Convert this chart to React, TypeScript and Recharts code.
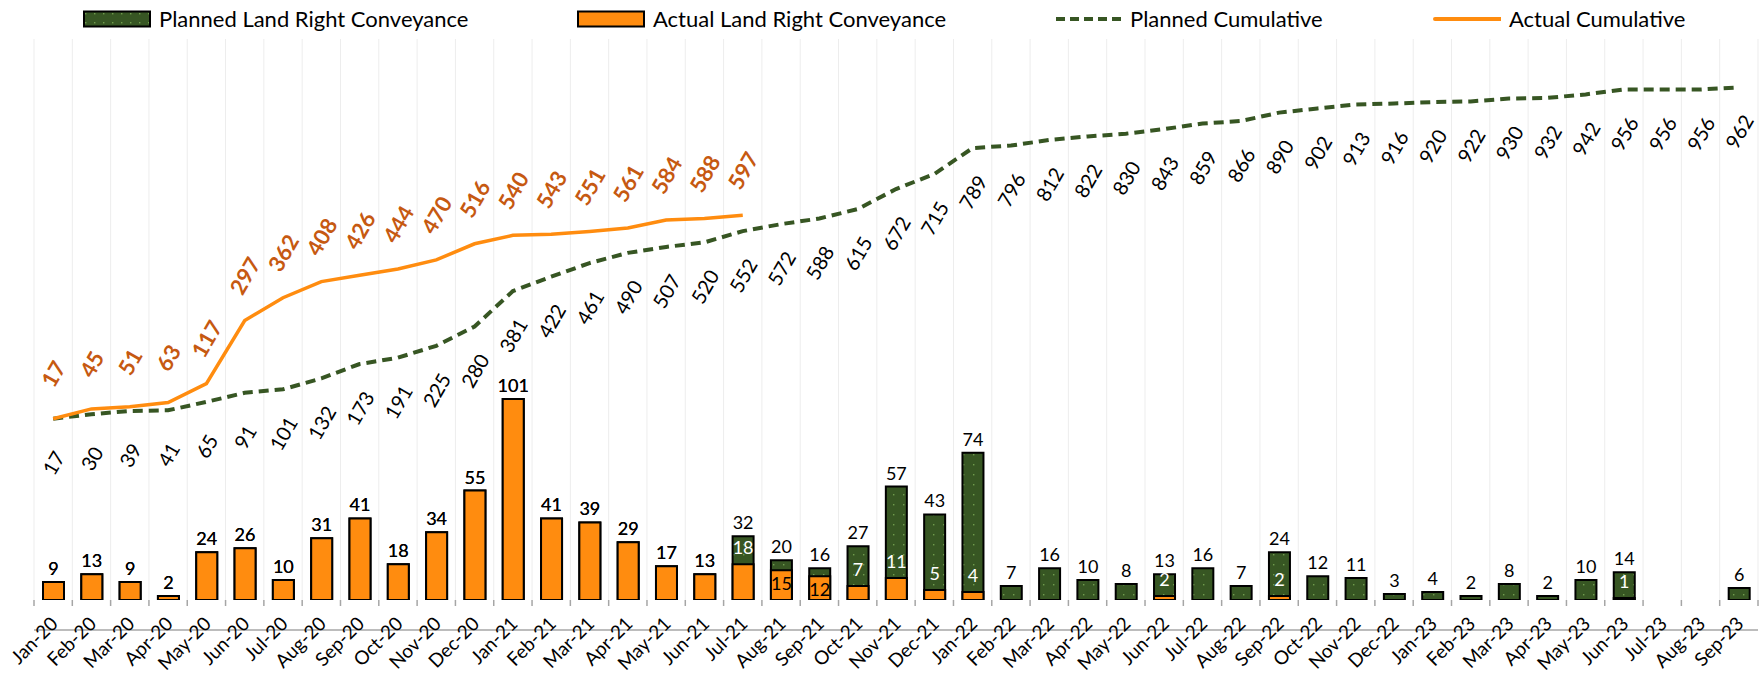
import React from "react";
import { ComposedChart, Bar, Line, XAxis, YAxis, CartesianGrid, LabelList } from "recharts";

const months = [
  "Jan-20", "Feb-20", "Mar-20", "Apr-20", "May-20", "Jun-20", "Jul-20", "Aug-20", "Sep-20", "Oct-20", "Nov-20", "Dec-20",
  "Jan-21", "Feb-21", "Mar-21", "Apr-21", "May-21", "Jun-21", "Jul-21", "Aug-21", "Sep-21", "Oct-21", "Nov-21", "Dec-21",
  "Jan-22", "Feb-22", "Mar-22", "Apr-22", "May-22", "Jun-22", "Jul-22", "Aug-22", "Sep-22", "Oct-22", "Nov-22", "Dec-22",
  "Jan-23", "Feb-23", "Mar-23", "Apr-23", "May-23", "Jun-23", "Jul-23", "Aug-23", "Sep-23",
];

const plannedMonthly = [
  9, 13, 9, 2, 24, 26, 10, 31, 41, 18, 34, 55,
  101, 41, 39, 29, 17, 13, 32, 20, 16, 27, 57, 43,
  74, 7, 16, 10, 8, 13, 16, 7, 24, 12, 11, 3,
  4, 2, 8, 2, 10, 14, null, null, 6,
];

const actualMonthly = [
  9, 13, 9, 2, 24, 26, 10, 31, 41, 18, 34, 55,
  101, 41, 39, 29, 17, 13, 18, 15, 12, 7, 11, 5,
  4, null, null, null, null, 2, null, null, 2, null, null, null,
  null, null, null, null, null, 1, null, null, null,
];

const plannedCumulative = [
  17, 30, 39, 41, 65, 91, 101, 132, 173, 191, 225, 280,
  381, 422, 461, 490, 507, 520, 552, 572, 588, 615, 672, 715,
  789, 796, 812, 822, 830, 843, 859, 866, 890, 902, 913, 916,
  920, 922, 930, 932, 942, 956, 956, 956, 962,
];

const actualCumulative = [
  17, 45, 51, 63, 117, 297, 362, 408, 426, 444, 470, 516,
  540, 543, 551, 561, 584, 588, 597,
];

const barDomain = [0, 282];
const cumDomain = [-500, 1100];

const W = 1759;
const H = 674;
const LEFT = 34;
const RIGHT = 1;
const TOP = 39;
const AXIS_H = 74;
const AXIS_Y = H - AXIS_H;
const BAND = (W - LEFT - RIGHT) / months.length;

const GREEN = "#375623";
const ORANGE = "#FF8C0F";
const ORANGE_TEXT = "#C65911";
const AXIS_GREY = "#A6A6A6";
const FONT = "Lato, 'Open Sans', sans-serif";

const data = months.map((m, i) => ({
  month: m,
  planned: plannedMonthly[i],
  actual: actualMonthly[i],
  // actual value and planned value together, so the label can pick its spot
  actualTag: actualMonthly[i] == null ? null : `${actualMonthly[i]}|${plannedMonthly[i]}`,
  plannedCum: plannedCumulative[i],
  actualCum: i < actualCumulative.length ? actualCumulative[i] : null,
}));

const PlannedLabel = (props: any) => {
  const { x, y, width, value } = props;
  if (value == null) return null;
  return (
    <text x={x + width / 2} y={y - 7} textAnchor="middle" fontSize={18} fontFamily={FONT} fill="#000">
      {value}
    </text>
  );
};

const ActualLabel = (props: any) => {
  const { x, y, width, value } = props;
  if (value == null) return null;
  const [a, p] = String(value).split("|").map(Number);
  const cx = x + width / 2;
  if (a === p) {
    return (
      <text x={cx} y={y - 7} textAnchor="middle" fontSize={18} fontFamily={FONT} fill="#000">
        {a}
      </text>
    );
  }
  // not enough green above the orange bar -> put it inside
  const inside = p - a < 8;
  return (
    <text
      x={cx}
      y={inside ? y + 19.5 : y - 10}
      textAnchor="middle"
      fontSize={18}
      fontFamily={FONT}
      fill={inside ? "#000" : "#fff"}
    >
      {a}
    </text>
  );
};

const cumLabel = (dy: number, color: string, weight: number, size: number) => (props: any) => {
  const { x, y, value } = props;
  if (value == null || y == null) return null;
  const cy = y + dy;
  return (
    <text
      x={x}
      y={cy}
      textAnchor="middle"
      dominantBaseline="central"
      transform={`rotate(-60, ${x}, ${cy})`}
      fontSize={size}
      fontWeight={weight}
      fontFamily={FONT}
      fill={color}
    >
      {value}
    </text>
  );
};

const MonthTick = (props: any) => {
  const { x, payload, index } = props;
  const y = AXIS_Y;
  const left = x - BAND / 2;
  const tx = x + 6;
  const ty = y + 25;
  return (
    <g>
      <line x1={left} x2={left} y1={y} y2={y + 6} stroke={AXIS_GREY} strokeWidth={1.5} />
      {index === months.length - 1 && (
        <line x1={x + BAND / 2} x2={x + BAND / 2} y1={y} y2={y + 6} stroke={AXIS_GREY} strokeWidth={1.5} />
      )}
      <text x={tx} y={ty} textAnchor="end" transform={`rotate(-45, ${tx}, ${ty})`} fontSize={19} fontFamily={FONT} fill="#000">
        {payload.value}
      </text>
    </g>
  );
};

const legendItems = [
  { label: "Planned Land Right Conveyance", kind: "plannedBar", left: 83 },
  { label: "Actual Land Right Conveyance", kind: "actualBar", left: 577 },
  { label: "Planned Cumulative", kind: "plannedLine", left: 1054 },
  { label: "Actual Cumulative", kind: "actualLine", left: 1433 },
];

const LegendIcon = ({ kind }: { kind: string }) => (
  <svg width={68} height={18} style={{ display: "block" }}>
    {kind === "plannedBar" && <rect x={1} y={1.5} width={66} height={15} fill="url(#greenDotsLegend)" stroke="#000" strokeWidth={2} />}
    {kind === "actualBar" && <rect x={1} y={1.5} width={66} height={15} fill={ORANGE} stroke="#000" strokeWidth={2} />}
    {kind === "plannedLine" && <line x1={2} x2={68} y1={9} y2={9} stroke={GREEN} strokeWidth={4} strokeDasharray="9 5" />}
    {kind === "actualLine" && <line x1={2} x2={68} y1={9} y2={9} stroke={ORANGE} strokeWidth={4} strokeLinecap="round" />}
  </svg>
);

export default function App() {
  return (
    <div style={{ position: "absolute", left: 0, top: 0, width: W, height: H, background: "#fff", fontFamily: FONT }}>
      <svg width={0} height={0} style={{ position: "absolute" }}>
        <defs>
          <pattern id="greenDotsLegend" width="9" height="9" patternUnits="userSpaceOnUse">
            <rect width="9" height="9" fill={GREEN} />
            <rect x="2" y="3" width="1.4" height="1.4" fill="#6F9C4C" />
          </pattern>
        </defs>
      </svg>
      {legendItems.map((it) => (
        <div
          key={it.label}
          style={{ position: "absolute", left: it.left, top: 5, height: 28, display: "flex", alignItems: "center", gap: 8, fontSize: 22, lineHeight: "28px", color: "#000", whiteSpace: "nowrap" }}
        >
          <LegendIcon kind={it.kind} />
          <span>{it.label}</span>
        </div>
      ))}
      <ComposedChart width={W} height={H} data={data} margin={{ top: TOP, right: RIGHT, left: LEFT, bottom: 0 }}>
        <defs>
          <pattern id="greenDots" width="10" height="10" patternUnits="userSpaceOnUse">
            <rect width="10" height="10" fill={GREEN} />
            <rect x="3" y="4" width="1.4" height="1.4" fill="#6F9C4C" />
          </pattern>
        </defs>
        <CartesianGrid
          xAxisId="p"
          yAxisId="left"
          horizontal={false}
          stroke="#EDEDED"
          verticalCoordinatesGenerator={({ offset }: any) =>
            months.map((_, i) => offset.left + i * BAND).concat(offset.left + offset.width)
          }
        />
        <XAxis
          xAxisId="p"
          dataKey="month"
          height={AXIS_H}
          interval={0}
          tickSize={0}
          tickMargin={0}
          tickLine={false}
          axisLine={{ stroke: AXIS_GREY, strokeWidth: 1.5 }}
          tick={<MonthTick />}
        />
        <XAxis xAxisId="a" dataKey="month" hide />
        <YAxis yAxisId="left" domain={barDomain} allowDataOverflow hide />
        <YAxis yAxisId="right" domain={cumDomain} allowDataOverflow hide />
        <Bar xAxisId="p" yAxisId="left" dataKey="planned" barSize={21} fill="url(#greenDots)" stroke="#000" strokeWidth={2} isAnimationActive={false}>
          <LabelList dataKey="planned" content={PlannedLabel} />
        </Bar>
        <Bar xAxisId="a" yAxisId="left" dataKey="actual" barSize={21} fill={ORANGE} stroke="#000" strokeWidth={2} isAnimationActive={false}>
          <LabelList dataKey="actualTag" content={ActualLabel} />
        </Bar>
        <Line
          xAxisId="p"
          yAxisId="right"
          dataKey="plannedCum"
          stroke={GREEN}
          strokeWidth={4}
          strokeDasharray="10 6"
          dot={false}
          isAnimationActive={false}
        >
          <LabelList dataKey="plannedCum" content={cumLabel(44, "#000", 400, 20)} />
        </Line>
        <Line
          xAxisId="p"
          yAxisId="right"
          dataKey="actualCum"
          stroke={ORANGE}
          strokeWidth={3.5}
          dot={false}
          isAnimationActive={false}
        >
          <LabelList dataKey="actualCum" content={cumLabel(-45, ORANGE_TEXT, 700, 22)} />
        </Line>
      </ComposedChart>
    </div>
  );
}
